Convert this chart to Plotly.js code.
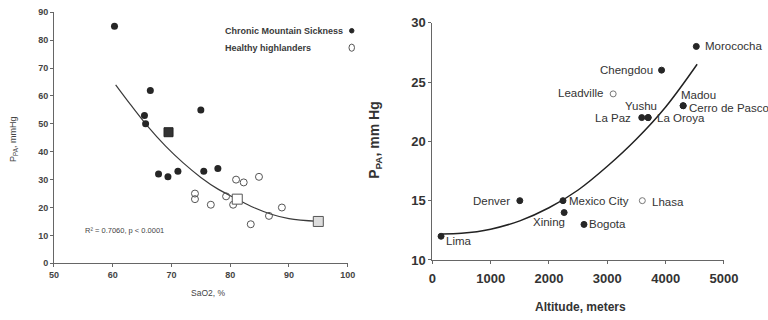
<!DOCTYPE html>
<html>
<head>
<meta charset="utf-8">
<script src="https://cdn.plot.ly/plotly-3.0.1.min.js"></script>
<style>html,body{margin:0;padding:0;background:#fff;}#chart{width:768px;height:320px;}</style>
</head>
<body>
<div id="chart"></div>
<script>
// ---- Left panel: PPA vs SaO2 ----
const cmsSaO2 = [60.3, 66.4, 65.4, 65.6, 75.0, 67.8, 69.4, 71.1, 75.5, 77.9];
const cmsPPA  = [85, 62, 53, 50, 55, 32, 31, 33, 33, 34];
const healthySaO2 = [74.0, 74.0, 76.7, 79.3, 80.5, 81.0, 82.3, 84.9, 83.5, 86.6, 88.8];
const healthyPPA  = [25, 23, 21, 24, 21, 30, 29, 31, 14, 17, 20];
const meanCmsSaO2 = [69.5];
const meanCmsPPA = [47];
const meanHealthySaO2 = [81.2];
const meanHealthyPPA = [23];
const refSaO2 = [95.0];
const refPPA = [15];
const fitSaO2 = [60.5, 63, 66, 69, 72, 75, 78, 81, 84, 87, 90, 95];
const fitPPA  = [64, 57, 49, 42, 36, 30.8, 26.5, 23.2, 20, 17.6, 16, 15];
const leftXTicks = [50, 60, 70, 80, 90, 100];
const leftYTicks = [0, 10, 20, 30, 40, 50, 60, 70, 80, 90];
const legendLabels = ["Chronic Mountain Sickness", "Healthy highlanders"];

// ---- Right panel: PPA vs altitude ----
const cities   = ["Lima", "Denver", "Mexico City", "Xining", "Bogota", "Lhasa", "Leadville", "Chengdou", "Morococha", "La Paz", "Yushu", "La Oroya", "Madou", "Cerro de Pasco"];
const altitude = [150, 1500, 2240, 2260, 2600, 3600, 3100, 3930, 4525, 3590, 3700, 3700, 4300, 4300];
const cityPPA  = [12, 15, 15, 14, 13, 15, 24, 26, 28, 22, 22, 22, 23, 23];
const healthyCity = [false, false, false, false, false, true, true, false, false, false, false, false, false, false];
const trendAlt = [170, 500, 1000, 1500, 2000, 2500, 3000, 3500, 4000, 4540];
const trendPPA = [12.2, 12.25, 12.6, 13.3, 14.4, 15.9, 17.9, 20.2, 22.9, 26.5];
const rightXTicks = [0, 1000, 2000, 3000, 4000, 5000];
const rightYTicks = [10, 15, 20, 25, 30];

// label placement (style only)
const labelPlace = {
  "Lima": {xa: "left", xs: 3, ys: -5},
  "Denver": {xa: "right", xs: -8, ys: 0},
  "Mexico City": {xa: "left", xs: 4, ys: 0},
  "Xining": {xa: "right", xs: 3, ys: -9},
  "Bogota": {xa: "left", xs: 3, ys: 0},
  "Lhasa": {xa: "left", xs: 8, ys: -1.5},
  "Leadville": {xa: "right", xs: -8, ys: 1},
  "Chengdou": {xa: "right", xs: -7, ys: 0.5},
  "Morococha": {xa: "left", xs: 7, ys: 0},
  "La Paz": {xa: "right", xs: -9, ys: 0},
  "Yushu": {xa: "right", xs: 11, ys: 12},
  "La Oroya": {xa: "left", xs: 7, ys: 0},
  "Madou": {xa: "left", xs: -4, ys: 10.5},
  "Cerro de Pasco": {xa: "left", xs: 3.5, ys: -2}
};

const dark = "#262626";
const traces = [
  {x: fitSaO2, y: fitPPA, mode: "lines", line: {color: "#3a3a3a", width: 1.2, shape: "spline"}, xaxis: "x", yaxis: "y", hoverinfo: "skip"},
  {x: cmsSaO2, y: cmsPPA, mode: "markers", marker: {symbol: "circle", size: 7, color: dark}, xaxis: "x", yaxis: "y"},
  {x: healthySaO2, y: healthyPPA, mode: "markers", marker: {symbol: "circle-open", size: 7, color: "#555", line: {width: 1}}, xaxis: "x", yaxis: "y"},
  {x: meanCmsSaO2, y: meanCmsPPA, mode: "markers", marker: {symbol: "square", size: 9, color: "#333", line: {color: "#222", width: 1}}, xaxis: "x", yaxis: "y"},
  {x: meanHealthySaO2, y: meanHealthyPPA, mode: "markers", marker: {symbol: "square", size: 10, color: "#fff", line: {color: "#555", width: 1}}, xaxis: "x", yaxis: "y"},
  {x: refSaO2, y: refPPA, mode: "markers", marker: {symbol: "square", size: 10, color: "#ddd", line: {color: "#555", width: 1}}, xaxis: "x", yaxis: "y"},
  {x: trendAlt, y: trendPPA, mode: "lines", line: {color: "#222", width: 1.5, shape: "spline"}, xaxis: "x2", yaxis: "y2", hoverinfo: "skip"},
  {x: altitude, y: cityPPA, mode: "markers",
   marker: {symbol: "circle", size: 6,
            color: healthyCity.map(h => h ? "#fff" : dark),
            line: {color: healthyCity.map(h => h ? "#777" : dark), width: 1}},
   xaxis: "x2", yaxis: "y2"}
];

const fam = "Liberation Sans, Arial, sans-serif";
const tickFontL = {family: fam, size: 9, color: "#444", weight: "bold"};
const tickFontR = {family: fam, size: 13, color: "#333", weight: "bold"};
const axCommon = {showgrid: false, zeroline: false, showline: true, linecolor: "#666", linewidth: 1,
                  ticks: "outside", ticklen: 3, tickcolor: "#666", tickmode: "array", fixedrange: true};

function note(x, y, text, font, extra) {
  return Object.assign({xref: "paper", yref: "paper", x: x, y: y, text: text, showarrow: false,
    xanchor: "center", yanchor: "middle", font: font}, extra || {});
}
const annotations = [];
// axis titles
annotations.push(note(0.2708, 0.084, "SaO2, %", {family: fam, size: 8.5, color: "#444"}));
annotations.push(note(0.017, 0.5625, "P<sub>PA</sub>, mmHg", {family: fam, size: 9, color: "#444"}, {textangle: -90}));
annotations.push(note(0.756, 0.042, "Altitude, meters", {family: fam, size: 12, color: "#333", weight: "bold"}));
annotations.push(note(0.488, 0.5625, "P<sub>PA</sub>, mm Hg", {family: fam, size: 14, color: "#333", weight: "bold"}, {textangle: -90}));
// legend (left panel)
annotations.push(note(0.290, 0.904, legendLabels[0], {family: fam, size: 9, color: "#3a3a3a", weight: "bold"}, {xanchor: "left"}));
annotations.push(note(0.290, 0.851, legendLabels[1], {family: fam, size: 9, color: "#3a3a3a", weight: "bold"}, {xanchor: "left"}));
// R² note
annotations.push(note(0.1077, 0.281, "R² = 0.7060, p < 0.0001", {family: fam, size: 7.5, color: "#444"}, {xanchor: "left"}));
// city labels
cities.forEach((c, i) => {
  const p = labelPlace[c];
  annotations.push({xref: "x2", yref: "y2", x: altitude[i], y: cityPPA[i], text: c, showarrow: false,
    xanchor: p.xa, yanchor: "middle", xshift: p.xs, yshift: p.ys,
    font: {family: fam, size: 11.5, color: "#333"}});
});

// legend symbols (drawn as shapes, right of legend text)
const shapes = [
  {type: "circle", xref: "paper", yref: "paper", x0: 0.4551, x1: 0.4609, y0: 0.8969, y1: 0.9109,
   fillcolor: dark, line: {color: dark, width: 1}},
  {type: "circle", xref: "paper", yref: "paper", x0: 0.4544, x1: 0.4616, y0: 0.8397, y1: 0.8622,
   fillcolor: "#fff", line: {color: "#555", width: 1}}
];

const layout = {
  width: 768, height: 320,
  margin: {l: 0, r: 0, t: 0, b: 0},
  paper_bgcolor: "#fff", plot_bgcolor: "rgba(0,0,0,0)",
  showlegend: false,
  xaxis: Object.assign({}, axCommon, {domain: [0.0703, 0.4527], range: [50, 100], tickvals: leftXTicks, tickfont: tickFontL, anchor: "y"}),
  yaxis: Object.assign({}, axCommon, {domain: [0.1772, 0.9616], range: [0, 90], tickvals: leftYTicks, tickfont: tickFontL, anchor: "x"}),
  xaxis2: Object.assign({}, axCommon, {domain: [0.5629, 0.9427], range: [0, 5000], tickvals: rightXTicks, tickfont: tickFontR, anchor: "y2", ticklabelstandoff: 3}),
  yaxis2: Object.assign({}, axCommon, {domain: [0.1875, 0.9291], range: [10, 30], tickvals: rightYTicks, tickfont: tickFontR, anchor: "x2"}),
  annotations: annotations,
  shapes: shapes
};

Plotly.newPlot("chart", traces, layout, {displayModeBar: false, staticPlot: true});
</script>
</body>
</html>
